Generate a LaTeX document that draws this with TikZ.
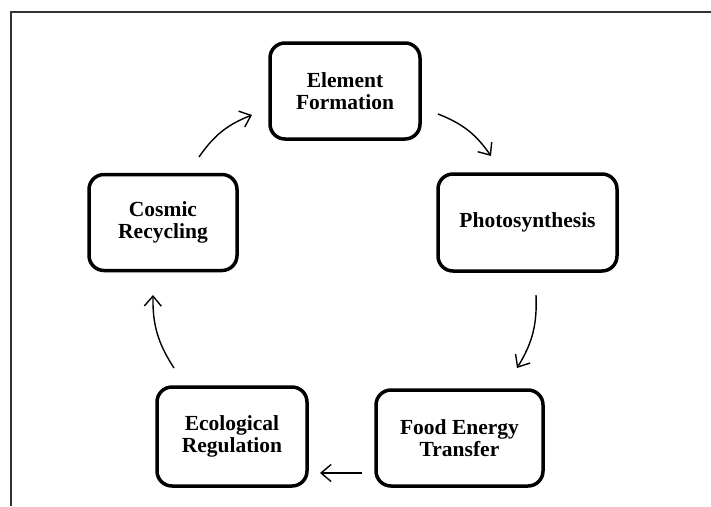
\documentclass[tikz,border=0pt]{standalone}
\usepackage{fontspec}
\setmainfont{Liberation Serif}
\usetikzlibrary{arrows.meta}
\begin{document}
\begin{tikzpicture}[x=1pt,y=-1pt,
  stagebox/.style={draw=black, line width=3.5pt, rounded corners=15pt, fill=white,
    align=center, inner sep=0pt,
    font=\fontsize{21.5}{22}\selectfont\bfseries},
  flow/.style={line width=1.4pt, -{Straight Barb[length=10pt,width=17pt,line width=1.4pt]}}]
\useasboundingbox (0,0) rectangle (711,506);
\draw[line width=2pt, draw=black!80] (11,506) -- (11,12) -- (711,12);
\node[stagebox, minimum width=150pt, minimum height=96pt] (E) at (345,91) {Element\\Formation};
\node[stagebox, minimum width=179pt, minimum height=97pt] (P) at (527.5,222.5) {Photosynthesis};
\node[stagebox, minimum width=167pt, minimum height=96pt] (F) at (459.5,438) {Food Energy\\Transfer};
\node[stagebox, minimum width=150pt, minimum height=99pt] (R) at (232,436.5) {Ecological\\Regulation};
\node[stagebox, minimum width=148pt, minimum height=96pt] (C) at (163,222.5) {Cosmic\\Recycling};
\coordinate (e1) at (438,114);
\coordinate (p1) at (491,156);
\coordinate (p2) at (536,295);
\coordinate (f1) at (517,368);
\coordinate (f2) at (362,473);
\coordinate (r1) at (320,473);
\coordinate (r2) at (174,368);
\coordinate (c1) at (153,295);
\coordinate (c2) at (199,157);
\coordinate (e2) at (252,115);
\draw[flow] (e1) to[bend left=17] (p1);
\draw[flow] (p2) to[bend left=17] (f1);
\draw[flow] (f2) -- (r1);
\draw[flow] (r2) to[bend left=17] (c1);
\draw[flow] (c2) to[bend left=17] (e2);
\end{tikzpicture}
\end{document}
